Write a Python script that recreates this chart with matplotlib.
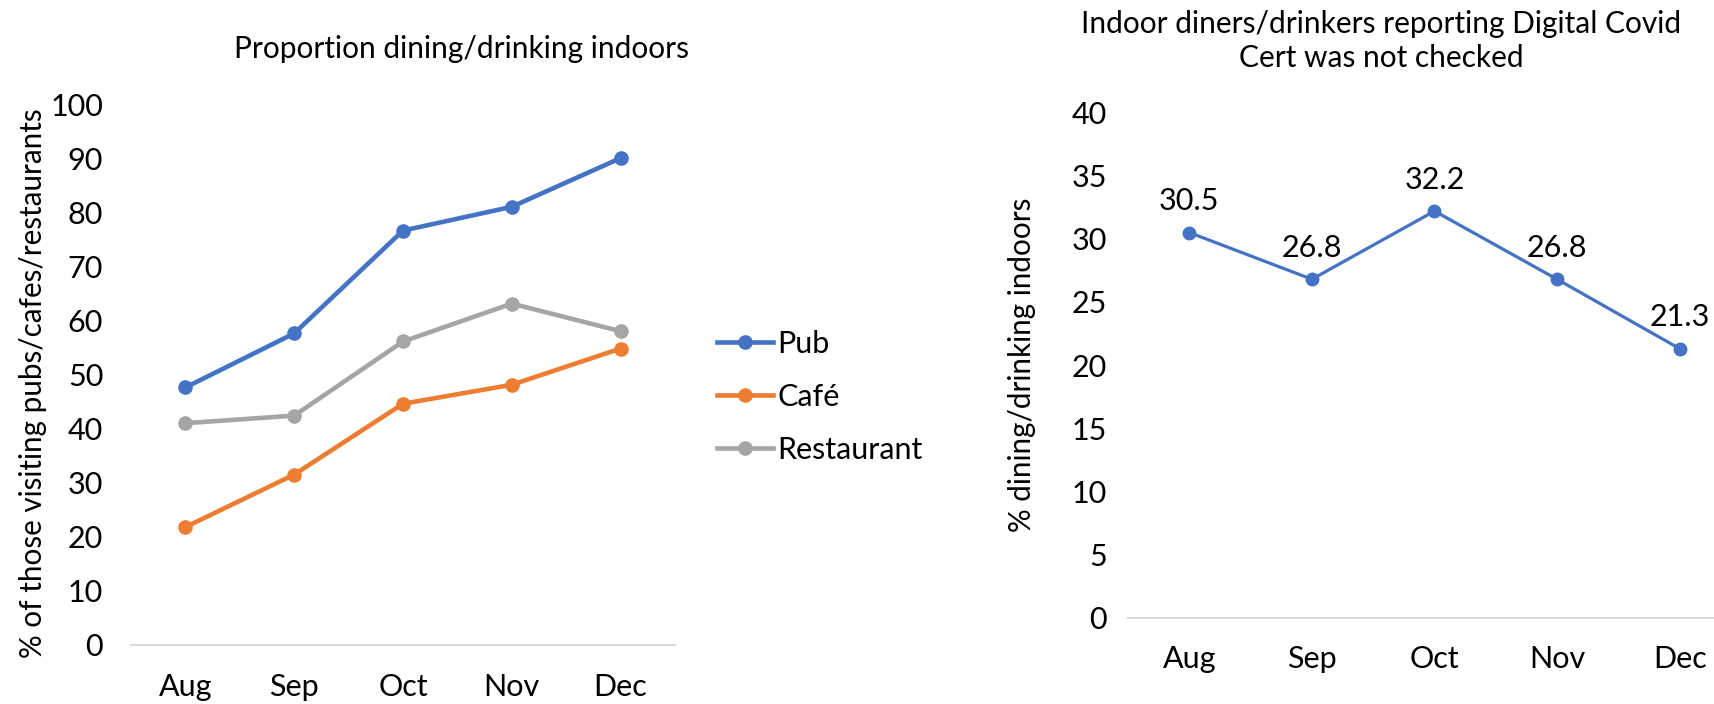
import matplotlib
matplotlib.use("Agg")
import matplotlib.pyplot as plt

plt.rcParams['font.family'] = ['Lato', 'DejaVu Sans']

months = ["Aug", "Sep", "Oct", "Nov", "Dec"]

# share of visitors dining/drinking indoors, by venue type
pub = [47.6, 57.6, 76.6, 81.0, 90.0]
cafe = [21.8, 31.5, 44.6, 48.1, 54.8]
restaurant = [41.0, 42.4, 56.1, 63.1, 58.0]

# indoor diners reporting cert not checked
not_checked = [30.5, 26.8, 32.2, 26.8, 21.3]

blue = "#4472C4"
orange = "#ED7D31"
grey = "#A5A5A5"
axis_col = "#D9D9D9"
tick_fs = 22
label_fs = 21.3
title_fs = 21.5

W, H = 1714, 704
fig = plt.figure(figsize=(W / 100, H / 100), dpi=100)

def style_axes(ax, ypad):
    for s in ["top", "right", "left"]:
        ax.spines[s].set_visible(False)
    ax.spines["bottom"].set_color(axis_col)
    ax.spines["bottom"].set_linewidth(1.5)
    ax.tick_params(axis="both", length=0, labelsize=tick_fs)
    ax.tick_params(axis="y", pad=ypad)
    ax.tick_params(axis="x", pad=20)

# left: proportion dining/drinking indoors
ax1 = fig.add_axes([131 / W, 59 / H, 544 / W, 541 / H])
x = range(len(months))
ax1.plot(x, pub, color=blue, lw=3.3, marker="o", ms=9.5, label="Pub")
ax1.plot(x, cafe, color=orange, lw=3.3, marker="o", ms=9.5, label="Café")
ax1.plot(x, restaurant, color=grey, lw=3.3, marker="o", ms=9.5, label="Restaurant")
ax1.set_xlim(-0.5, 4.5)
ax1.set_ylim(0, 100)
ax1.set_yticks(range(0, 101, 10))
ax1.set_xticks(list(x))
ax1.set_xticklabels(months)
style_axes(ax1, 20)
ax1.set_ylabel("% of those visiting pubs/cafes/restaurants", fontsize=label_fs, va="center")
ax1.yaxis.set_label_coords((33 - 131) / 544, 0.484)
fig.text(461 / W, 1 - 49 / H, "Proportion dining/drinking indoors",
         ha="center", va="center", fontsize=title_fs)
fig.legend(handles=ax1.get_lines(), loc="center left",
           bbox_to_anchor=(717 / W, 1 - 397 / H), bbox_transform=fig.transFigure,
           frameon=False, fontsize=tick_fs, borderpad=0, borderaxespad=0,
           handlelength=1.83, labelspacing=0.82, handletextpad=0.15)

# right: cert not checked
ax2 = fig.add_axes([1128 / W, 86.4 / H, (W - 1128) / W, 505 / H])
ax2.plot(x, not_checked, color=blue, lw=2.3, marker="o", ms=9)
for i, v in enumerate(not_checked):
    ax2.annotate(f"{v:.1f}", (i, v), xytext=(0, 22.5), textcoords="offset points",
                 ha="center", va="center", fontsize=tick_fs)
ax2.set_xlim(-0.5, 4.28)
ax2.set_ylim(0, 40)
ax2.set_yticks(range(0, 41, 5))
ax2.set_xticks(list(x))
ax2.set_xticklabels(months)
style_axes(ax2, 15)
ax2.set_ylabel("% dining/drinking indoors", fontsize=label_fs, va="center")
ax2.yaxis.set_label_coords((1022 - 1128) / 586, 0.5)
fig.text(1381 / W, 1 - 41 / H,
         "Indoor diners/drinkers reporting Digital Covid\nCert was not checked",
         ha="center", va="center", fontsize=title_fs, linespacing=1.25)

fig.savefig("out.png", dpi=100)
